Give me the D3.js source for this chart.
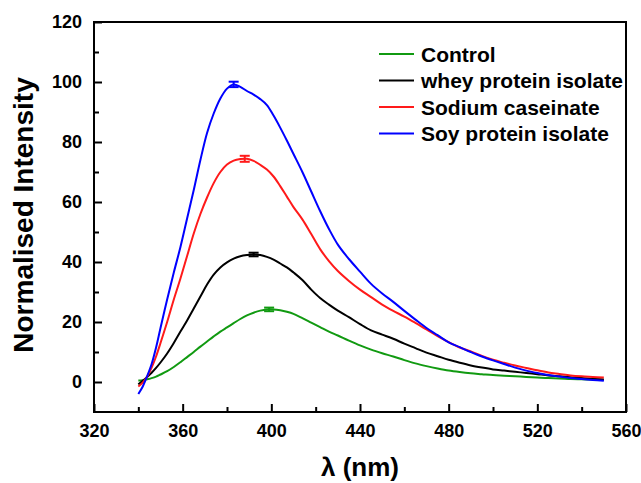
<!DOCTYPE html>
<html>
<head>
<meta charset="utf-8">
<script src="https://cdn.jsdelivr.net/npm/d3@7/dist/d3.min.js"></script>
<style>
  html, body { margin: 0; padding: 0; background: #ffffff; }
  svg { display: block; font-family: "Liberation Sans", Arial, Helvetica, sans-serif; }
</style>
</head>
<body>
<svg id="chart" width="641" height="483"></svg>
<script>
// Emission wavelengths (nm)
const wavelength = [340,342,344,346,348,350,353,356,359,362,365,368,371,374,377,380,383,386,389,392,395,398,401,404,407,410,414,418,422,426,430,435,440,445,450,455,460,465,470,475,480,485,490,495,500,505,510,515,520,525,530,535,540,545,550];

// Normalised fluorescence intensity per sample
const control = [0.5,0.6,0.9,1.3,1.8,2.5,3.6,5,6.6,8.3,10,11.8,13.5,15.2,16.8,18.2,19.6,21,22.2,23.1,23.8,24.2,24.2,23.9,23.4,22.7,21.3,19.8,18.3,16.8,15.5,13.8,12.2,10.8,9.6,8.5,7.3,6.2,5.3,4.5,3.8,3.3,2.9,2.6,2.3,2.1,1.9,1.7,1.5,1.3,1.2,1.0,0.9,0.8,0.7];
const whey = [-0.8,0.4,1.7,3.1,4.7,6.5,9.5,13,16.8,20.5,24.5,28.5,32.5,35.8,38.2,39.9,41.1,41.9,42.3,42.5,42.3,41.7,40.8,39.5,38.2,36.5,34,30.8,28,25.8,23.8,21.6,19.3,17.2,15.8,14.4,12.8,11.3,9.8,8.6,7.4,6.4,5.5,4.8,4.2,3.8,3.4,3.0,2.6,2.2,1.9,1.6,1.3,1.1,0.8];
const sodium = [-1.5,-0.2,1.8,4.8,8.5,13,20,27.5,34.5,42,49.5,56,61.5,66.3,70,72.5,73.8,74.3,74.4,73.7,72.4,70.8,68.5,65.3,61.8,58.3,54.2,49.3,44.3,40.3,37,33.7,30.8,28.3,25.8,23.7,21.8,19.7,17.5,15.3,13.3,11.5,10.2,8.7,7.4,6.4,5.5,4.7,3.9,3.2,2.7,2.2,1.9,1.7,1.5];
const soy = [-4,-1.5,2,6,11.5,18,27.5,36.5,45,54.5,64,74,83,89.5,94.5,97.8,99.2,98.4,97,95.8,94.3,92.3,88.8,84.8,80.5,76,70,63.5,57,51,45.8,41,36.8,32.7,29.5,26.7,23.7,20.8,18,15.6,13.2,11.6,10,8.5,7.2,6.0,4.8,3.8,3.0,2.3,1.8,1.3,1.0,0.7,0.4];

// Peak position and standard deviation for each sample
const peakWavelength = [399, 392, 388, 383];
const peakValue = [24.2, 42.5, 74.4, 99.2];
const peakError = [0.6, 0.6, 1.0, 0.9];

const seriesNames = ["Control", "whey protein isolate", "Sodium caseinate", "Soy protein isolate"];
const seriesColors = ["#119a11", "#000000", "#ff1a1a", "#0000ff"];
const seriesValues = [control, whey, sodium, soy];

const xTicks = [320, 360, 400, 440, 480, 520, 560];
const xMinorTicks = [340, 380, 420, 460, 500, 540];
const yTicks = [0, 20, 40, 60, 80, 100, 120];
const yMinorTicks = [10, 30, 50, 70, 90, 110];

const svg = d3.select("#chart");
const plotLeft = 94, plotRight = 626, plotTop = 22, plotBottom = 412;

const x = d3.scaleLinear().domain([320, 560]).range([plotLeft, plotRight]);
const y = d3.scaleLinear().domain([-10, 120]).range([plotBottom, plotTop]);

// Axes with inward ticks
const xAxis = svg.append("g").attr("transform", `translate(0,${plotBottom})`)
  .call(d3.axisBottom(x).tickValues(xTicks).tickSize(-8).tickPadding(12).tickFormat(d3.format("d")));
const xMinor = svg.append("g").attr("transform", `translate(0,${plotBottom})`)
  .call(d3.axisBottom(x).tickValues(xMinorTicks).tickSize(-5).tickFormat(""));
const yAxis = svg.append("g").attr("transform", `translate(${plotLeft},0)`)
  .call(d3.axisLeft(y).tickValues(yTicks).tickSize(-8).tickPadding(12).tickFormat(d3.format("d")));
const yMinor = svg.append("g").attr("transform", `translate(${plotLeft},0)`)
  .call(d3.axisLeft(y).tickValues(yMinorTicks).tickSize(-5).tickFormat(""));

[xAxis, xMinor, yAxis, yMinor].forEach(g => {
  g.select(".domain").remove();
  g.selectAll(".tick line").attr("stroke", "#000").attr("stroke-width", 2);
  g.selectAll(".tick text")
    .attr("fill", "#000")
    .style("font-size", "18px")
    .style("font-weight", "bold")
    .style("font-family", "'Liberation Sans', Arial, sans-serif");
});

// Plot frame
svg.append("rect")
  .attr("x", plotLeft).attr("y", plotTop)
  .attr("width", plotRight - plotLeft).attr("height", plotBottom - plotTop)
  .attr("fill", "none").attr("stroke", "#000").attr("stroke-width", 2);

// Spectra
const line = d3.line()
  .x((d, i) => x(wavelength[i]))
  .y(d => y(d))
  .curve(d3.curveCatmullRom.alpha(0.5));

seriesValues.forEach((vals, k) => {
  svg.append("path")
    .datum(vals)
    .attr("d", line)
    .attr("fill", "none")
    .attr("stroke", seriesColors[k])
    .attr("stroke-width", 2);
});

// Error bars at the emission maxima
peakWavelength.forEach((w, k) => {
  const cx = x(w), y1 = y(peakValue[k] - peakError[k]), y2 = y(peakValue[k] + peakError[k]);
  const g = svg.append("g").attr("stroke", seriesColors[k]).attr("stroke-width", 2);
  g.append("line").attr("x1", cx).attr("x2", cx).attr("y1", y1).attr("y2", y2);
  g.append("line").attr("x1", cx - 5).attr("x2", cx + 5).attr("y1", y1).attr("y2", y1);
  g.append("line").attr("x1", cx - 5).attr("x2", cx + 5).attr("y1", y2).attr("y2", y2);
});

// Legend
const legend = svg.append("g");
seriesNames.forEach((name, k) => {
  const cy = 54 + k * 26.5;
  legend.append("line")
    .attr("x1", 379).attr("x2", 414).attr("y1", cy).attr("y2", cy)
    .attr("stroke", seriesColors[k]).attr("stroke-width", 2);
  legend.append("text")
    .attr("x", 421).attr("y", cy + 7.5)
    .attr("fill", "#000")
    .style("font-size", "21px").style("font-weight", "bold")
    .text(name);
});

// Axis titles
svg.append("text")
  .attr("x", (plotLeft + plotRight) / 2).attr("y", 476)
  .attr("text-anchor", "middle")
  .style("font-size", "26px").style("font-weight", "bold")
  .text("λ (nm)");

svg.append("text")
  .attr("transform", `translate(33,215) rotate(-90)`)
  .attr("text-anchor", "middle")
  .style("font-size", "28px").style("font-weight", "bold")
  .text("Normalised Intensity");
</script>
</body>
</html>
